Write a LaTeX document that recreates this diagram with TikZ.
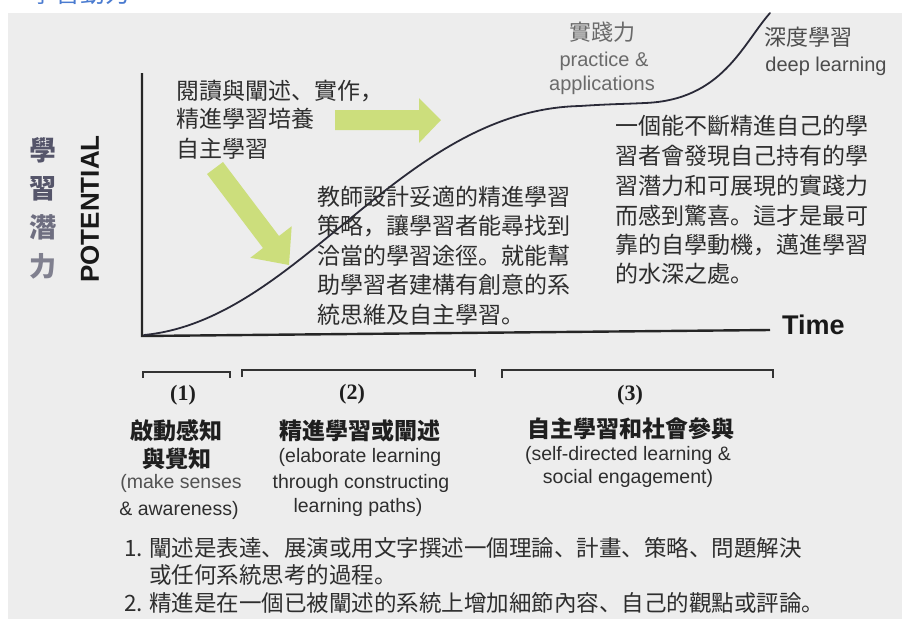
\documentclass[tikz,border=0pt]{standalone}
\usepackage{fontspec}
\setmainfont{Liberation Sans}
\newfontfamily\cjk{Noto Sans CJK JP}
\newfontfamily\serifnum{Liberation Serif}
\definecolor{bggray}{HTML}{EDEDED}
\definecolor{txtdark}{HTML}{2E2E2E}
\definecolor{txtgray}{HTML}{6A6A6A}
\definecolor{arrowgreen}{HTML}{CCDE7C}
\definecolor{curvecol}{HTML}{2A2A38}
\definecolor{ycol}{HTML}{55556A}
\definecolor{bluetitle}{HTML}{4A7BD0}
\tikzset{
  cjkline/.style={inner sep=0pt, anchor=base west, text=txtdark, font=\cjk\fontsize{23}{23}\selectfont},
  noteline/.style={inner sep=0pt, anchor=base west, text=txtdark, font=\cjk\fontsize{22.5}{22.5}\selectfont},
  cjkhead/.style={inner sep=0pt, anchor=base, text=black!88, font=\cjk\bfseries\fontsize{23}{23}\selectfont},
  enline/.style={inner sep=0pt, anchor=base, text=txtdark, font=\fontsize{19.5}{19.5}\selectfont},
  numlabel/.style={inner sep=0pt, anchor=base, text=black!88, font=\serifnum\bfseries\fontsize{22}{22}\selectfont},
  graylabel/.style={inner sep=0pt, anchor=base, text=txtgray, font=\fontsize{20}{20}\selectfont},
  graycjk/.style={inner sep=0pt, anchor=base, text=txtgray, font=\cjk\fontsize{22}{22}\selectfont},
  ylab/.style={inner sep=0pt, anchor=base, text=ycol, font=\cjk\bfseries\fontsize{27}{27}\selectfont},
  greenarrow/.style={fill=arrowgreen, draw=none},
  axisline/.style={line width=2.4pt, draw=black!85},
  bracketline/.style={line width=2pt, draw=black!80},
}
\begin{document}
\begin{tikzpicture}[x=1pt,y=-1pt]
\useasboundingbox (0,0) rectangle (906,625);
% top cut-off blue title
\node[inner sep=0pt, anchor=base west, text=bluetitle, font=\cjk\fontsize{25}{25}\selectfont] (title) at (30,2) {學習動力};
% background
\fill[bggray] (8,13) rectangle (902,619);

% green arrows
\fill[greenarrow] (335,110) -- (419,110) -- (419,98) -- (441,120) -- (419,143) -- (419,130) -- (335,130) -- cycle;
\fill[greenarrow] (223,162) -- (279,236) -- (291.7,226.2) -- (289,265) -- (250.3,257.8) -- (263,248) -- (207,174) -- cycle;

% axes
\draw[axisline] (142,73) -- (142,336) -- (770,330);
% S curve
\draw[line width=1.8pt, curvecol, line cap=round]
  (144,335) .. controls (300,320) and (400,110) .. (580,106)
  .. controls (610,104) and (625,104) .. (645,103)
  .. controls (722,100) and (742,45) .. (770,13);

% axis labels
\node[ylab] (y1) at (43,160) {學};
\node[ylab] (y2) at (43,198) {習};
\node[ylab, text=ycol!85] (y3) at (43,237) {潛};
\node[ylab, text=ycol!75] (y4) at (43,276) {力};
\node[inner sep=0pt, rotate=90, text=black!90, font=\bfseries\fontsize{26}{26}\selectfont] (pot) at (90,209) {POTENTIAL};
\node[inner sep=0pt, anchor=base west, text=black!90, font=\bfseries\fontsize{27}{27}\selectfont] (time) at (782,334) {Time};

% top labels
\node[graycjk] (prac1) at (602,40) {實踐力};
\node[graylabel] (prac2) at (604,66) {practice \&};
\node[graylabel] (prac3) at (602,90) {applications};
\node[graycjk, text=black!70] (deep1) at (808,45) {深度學習};
\node[graylabel, text=black!70] (deep2) at (826,71) {deep learning};

% block A
\node[cjkline] (a1) at (176,99) {閱讀與闡述、實作，};
\node[cjkline] (a2) at (176,127.5) {精進學習培養};
\node[cjkline] (a3) at (176,157) {自主學習};
% block B
\node[cjkline] (b1) at (317,205) {教師設計妥適的精進學習};
\node[cjkline] (b2) at (317,234.5) {策略，讓學習者能尋找到};
\node[cjkline] (b3) at (317,264) {洽當的學習途徑。就能幫};
\node[cjkline] (b4) at (317,293.5) {助學習者建構有創意的系};
\node[cjkline] (b5) at (317,323) {統思維及自主學習。};
% block C
\node[cjkline] (c1) at (615,134) {一個能不斷精進自己的學};
\node[cjkline] (c2) at (615,164) {習者會發現自己持有的學};
\node[cjkline] (c3) at (615,194) {習潛力和可展現的實踐力};
\node[cjkline] (c4) at (615,224) {而感到驚喜。這才是最可};
\node[cjkline] (c5) at (615,253) {靠的自學動機，邁進學習};
\node[cjkline] (c6) at (615,282) {的水深之處。};

% brackets
\draw[bracketline] (143,378) -- (143,372) -- (230,372) -- (230,378);
\draw[bracketline] (242,377) -- (242,370) -- (475,370) -- (475,377);
\draw[bracketline] (502,378) -- (502,370) -- (773,370) -- (773,378);

% stage 1
\node[numlabel] (n1) at (183,400) {(1)};
\node[cjkhead] (h1a) at (176,439) {啟動感知};
\node[cjkhead] (h1b) at (177,467) {與覺知};
\node[enline, text=black!68] (e1a) at (181,488.5) {(make senses};
\node[enline] (e1b) at (179,515.5) {\& awareness)};
% stage 2
\node[numlabel] (n2) at (352,399) {(2)};
\node[cjkhead] (h2) at (360,439) {精進學習或闡述};
\node[enline] (e2a) at (360,462.5) {(elaborate learning};
\node[enline] (e2b) at (361,488.5) {through constructing};
\node[enline] (e2c) at (358,512.5) {learning paths)};
% stage 3
\node[numlabel] (n3) at (630,400) {(3)};
\node[cjkhead] (h3) at (631,437) {自主學習和社會參與};
\node[enline] (e3a) at (628,460.5) {(self-directed learning \&};
\node[enline] (e3b) at (628,483.5) {social engagement)};

% notes
\node[noteline] (m1) at (124,556) {1.};
\node[noteline] (t1) at (149,556) {闡述是表達、展演或用文字撰述一個理論、計畫、策略、問題解決};
\node[noteline] (t2) at (149,583.5) {或任何系統思考的過程。};
\node[noteline] (m2) at (124,611) {2.};
\node[noteline] (t3) at (149,611) {精進是在一個已被闡述的系統上增加細節內容、自己的觀點或評論。};
\end{tikzpicture}
\end{document}
